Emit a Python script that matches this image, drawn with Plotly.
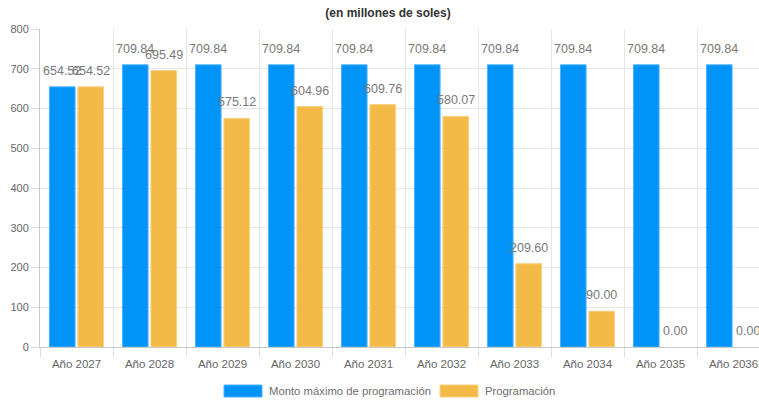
import plotly.graph_objects as go

categories = ["Año 2027", "Año 2028", "Año 2029", "Año 2030", "Año 2031",
              "Año 2032", "Año 2033", "Año 2034", "Año 2035", "Año 2036"]
monto_maximo = [654.52, 709.84, 709.84, 709.84, 709.84, 709.84, 709.84, 709.84, 709.84, 709.84]
programacion = [654.52, 695.49, 575.12, 604.96, 609.76, 580.07, 209.60, 90.00, 0.00, 0.00]
series_names = ["Monto máximo de programación", "Programación"]
title_text = "(en millones de soles)"

BLUE = "#0094F9"
YELLOW = "#F4BA48"
FONT = "Liberation Sans, Arial, sans-serif"

W, H = 759, 405
ML, MR, MT, MB = 40, 0, 29, 58
PW = W - ML - MR
PH = H - MT - MB
CAT_PX = 73.0
x_hi = -0.5 + PW / CAT_PX

fig = go.Figure()
fig.add_trace(go.Bar(x=categories, y=monto_maximo, name=series_names[0],
                     marker=dict(color=BLUE,
                                 line=dict(color="#4DB4FF",
                                           width=[1 if v > 0 else 0 for v in monto_maximo]))))
fig.add_trace(go.Bar(x=categories, y=programacion, name=series_names[1],
                     marker=dict(color=YELLOW,
                                 line=dict(color="#F8D080",
                                           width=[1 if v > 0 else 0 for v in programacion]))))

bargap = 0.22
slot = CAT_PX * (1 - bargap) / 2
annotations = []
for vals, shift in ((monto_maximo, -slot / 2), (programacion, slot / 2)):
    for c, v in zip(categories, vals):
        annotations.append(dict(x=c, y=v, xref="x", yref="y", text=f"{v:.2f}",
                                showarrow=False, xshift=shift, yshift=16,
                                yanchor="middle", xanchor="center",
                                font=dict(family=FONT, size=12.5, color="#7a7a7a")))

# custom legend (wide swatches like the original)
def px_x(p):
    return (p - ML) / PW

def px_y(p):
    return (H - MB - p) / PH

shapes = []
legend_items = [(224, 262, BLUE, "#4DB4FF", series_names[0]),
                (440, 478, YELLOW, "#F8D080", series_names[1])]
for x0, x1, col, lc, name in legend_items:
    shapes.append(dict(type="rect", xref="paper", yref="paper",
                       x0=px_x(x0), x1=px_x(x1), y0=px_y(397), y1=px_y(385),
                       fillcolor=col, line=dict(color=lc, width=1)))
    annotations.append(dict(x=px_x(x1 + 5), y=px_y(391), xref="paper", yref="paper",
                            text=name, showarrow=False, xanchor="left", yanchor="middle",
                            font=dict(family=FONT, size=11.3, color="#6e6e6e")))

fig.update_layout(
    width=W, height=H,
    margin=dict(l=ML, r=MR, t=MT, b=MB, pad=0, autoexpand=False),
    paper_bgcolor="white", plot_bgcolor="white",
    barmode="group", bargap=bargap, bargroupgap=0.1,
    showlegend=False,
    title=dict(text="<b>" + title_text + "</b>", x=388 / W, xref="container",
               y=1 - 13 / H, yref="container", xanchor="center", yanchor="middle",
               font=dict(family=FONT, size=12, color="#333333")),
    font=dict(family=FONT, size=11, color="#666666"),
    xaxis=dict(type="category", range=[-0.5, x_hi], tickson="boundaries", automargin=False,
               showgrid=True, gridcolor="#e6e6e6", gridwidth=1,
               ticks="outside", ticklen=9, tickcolor="#dddddd", ticklabelstandoff=6,
               showline=True, linecolor="#c8c8c8", linewidth=1,
               tickfont=dict(family=FONT, size=11.5, color="#666666"), fixedrange=True),
    yaxis=dict(range=[0, 800], dtick=100, showgrid=True, gridcolor="#e6e6e6", gridwidth=1,
               automargin=False,
               ticks="outside", ticklen=8, tickcolor="#dddddd",
               showline=True, linecolor="#c8c8c8", linewidth=1, zeroline=False,
               tickfont=dict(family=FONT, size=11, color="#666666"), fixedrange=True),
    annotations=annotations,
    shapes=shapes,
)

fig.write_html("out.html", config={"displayModeBar": False},
               post_script="document.body.style.margin='0';document.body.style.overflow='hidden';")
